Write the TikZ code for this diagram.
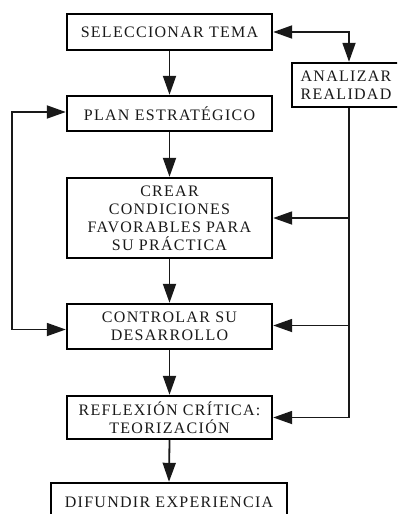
\documentclass[tikz,border=0pt]{standalone}
\usepackage{fontspec}
\setmainfont{Liberation Serif}[LetterSpace=8]
\usetikzlibrary{arrows.meta}
\begin{document}
\begin{tikzpicture}[x=1pt,y=-1pt,
  boxst/.style={draw=black,line width=2.4pt,rectangle,inner sep=0pt,align=center,
     font=\fontsize{16}{18}\selectfont,text=black!90},
  conn/.style={line width=1.8pt,draw=black!90},
  arr/.style={conn,-{Triangle[length=19pt,width=13pt]}},
  darr/.style={conn,{Triangle[length=19pt,width=13pt]}-{Triangle[length=19pt,width=13pt]}}]
\useasboundingbox (0,0) rectangle (397,514);
\clip (0,0) rectangle (397,514);
\node[boxst,minimum width=205pt,minimum height=36pt] (sel) at (169.5,32) {SELECCIONAR TEMA};
\node[boxst,minimum width=108pt,minimum height=44pt] (anal) at (346,85) {ANALIZAR\\REALIDAD};
\node[boxst,minimum width=205pt,minimum height=35pt] (plan) at (169.5,113.5) {PLAN ESTRATÉGICO};
\node[boxst,minimum width=205pt,minimum height=80pt] (crear) at (169.5,218) {CREAR\\CONDICIONES\\FAVORABLES PARA\\SU PRÁCTICA};
\node[boxst,minimum width=205pt,minimum height=45pt] (ctrl) at (169.5,326.5) {CONTROLAR SU\\DESARROLLO};
\node[boxst,minimum width=205pt,minimum height=43pt] (refl) at (169.5,417.5) {REFLEXIÓN CRÍTICA:\\TEORIZACIÓN};
\node[boxst,minimum width=236pt,minimum height=38pt] (dif) at (169,502) {DIFUNDIR EXPERIENCIA};
\coordinate (rx) at (349,0);
\coordinate (lx) at (12,0);
% main flow
\draw[arr] (sel.south) -- (plan.north);
\draw[arr] (plan.south) -- (crear.north);
\draw[arr] (crear.south) -- (ctrl.north);
\draw[arr] (ctrl.south) -- (refl.north);
\draw[arr] (refl.south) -- (dif.north);
% top right double arrow
\draw[darr] (sel.east) -- (rx |- sel.east) -- (rx |- anal.north);
% right feedback line
\draw[conn] (rx |- anal.south) -- (rx |- refl.east);
\draw[arr] (rx |- crear.east) -- (crear.east);
\draw[arr] ([yshift=1pt]rx |- ctrl.east) -- ([yshift=1pt]ctrl.east);
\draw[arr] (rx |- refl.east) -- (refl.east);
% left loop
\draw[darr] ([yshift=1.5pt]plan.west) -- ([yshift=1.5pt]lx |- plan.west) -- ([yshift=-3pt]lx |- ctrl.west) -- ([yshift=-3pt]ctrl.west);
\end{tikzpicture}
\end{document}
